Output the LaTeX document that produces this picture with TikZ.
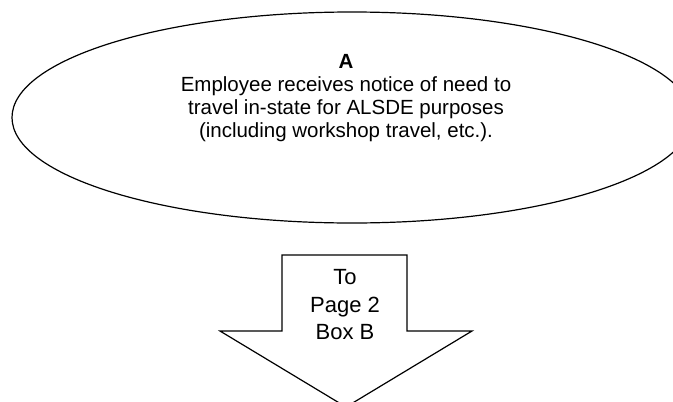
\documentclass[tikz,border=0pt]{standalone}
\usepackage{fontspec}
\setmainfont{Liberation Sans}
\usetikzlibrary{shapes.geometric}

\begin{document}
\begin{tikzpicture}[
  x=1pt, y=-1pt,
  outline/.style={draw=black, line width=1.2pt},
  oval/.style={outline, ellipse, minimum width=680pt, minimum height=211pt, inner sep=0pt},
  ovaltext/.style={align=center, font=\fontsize{20.5}{23}\selectfont},
  arrowtext/.style={align=center, font=\fontsize{22}{27.5}\selectfont},
]
\clip (0,0) rectangle (673,402);

\node[oval] (ellA) at (352,117.5) {};
\node[ovaltext] (textA) at (346,98) {\textbf{A}\\Employee receives notice of need to\\travel in-state for ALSDE purposes\\(including workshop travel, etc.).};

% Off-page arrow
\node[arrowtext] (toB) at (345,305) {To\\Page 2\\Box B};
\draw[outline, line join=miter] (282,255) -- (407,255) -- (407,331) -- (472,331)
  -- (346,407) -- (220,331) -- (282,331) -- cycle;

\end{tikzpicture}
\end{document}
